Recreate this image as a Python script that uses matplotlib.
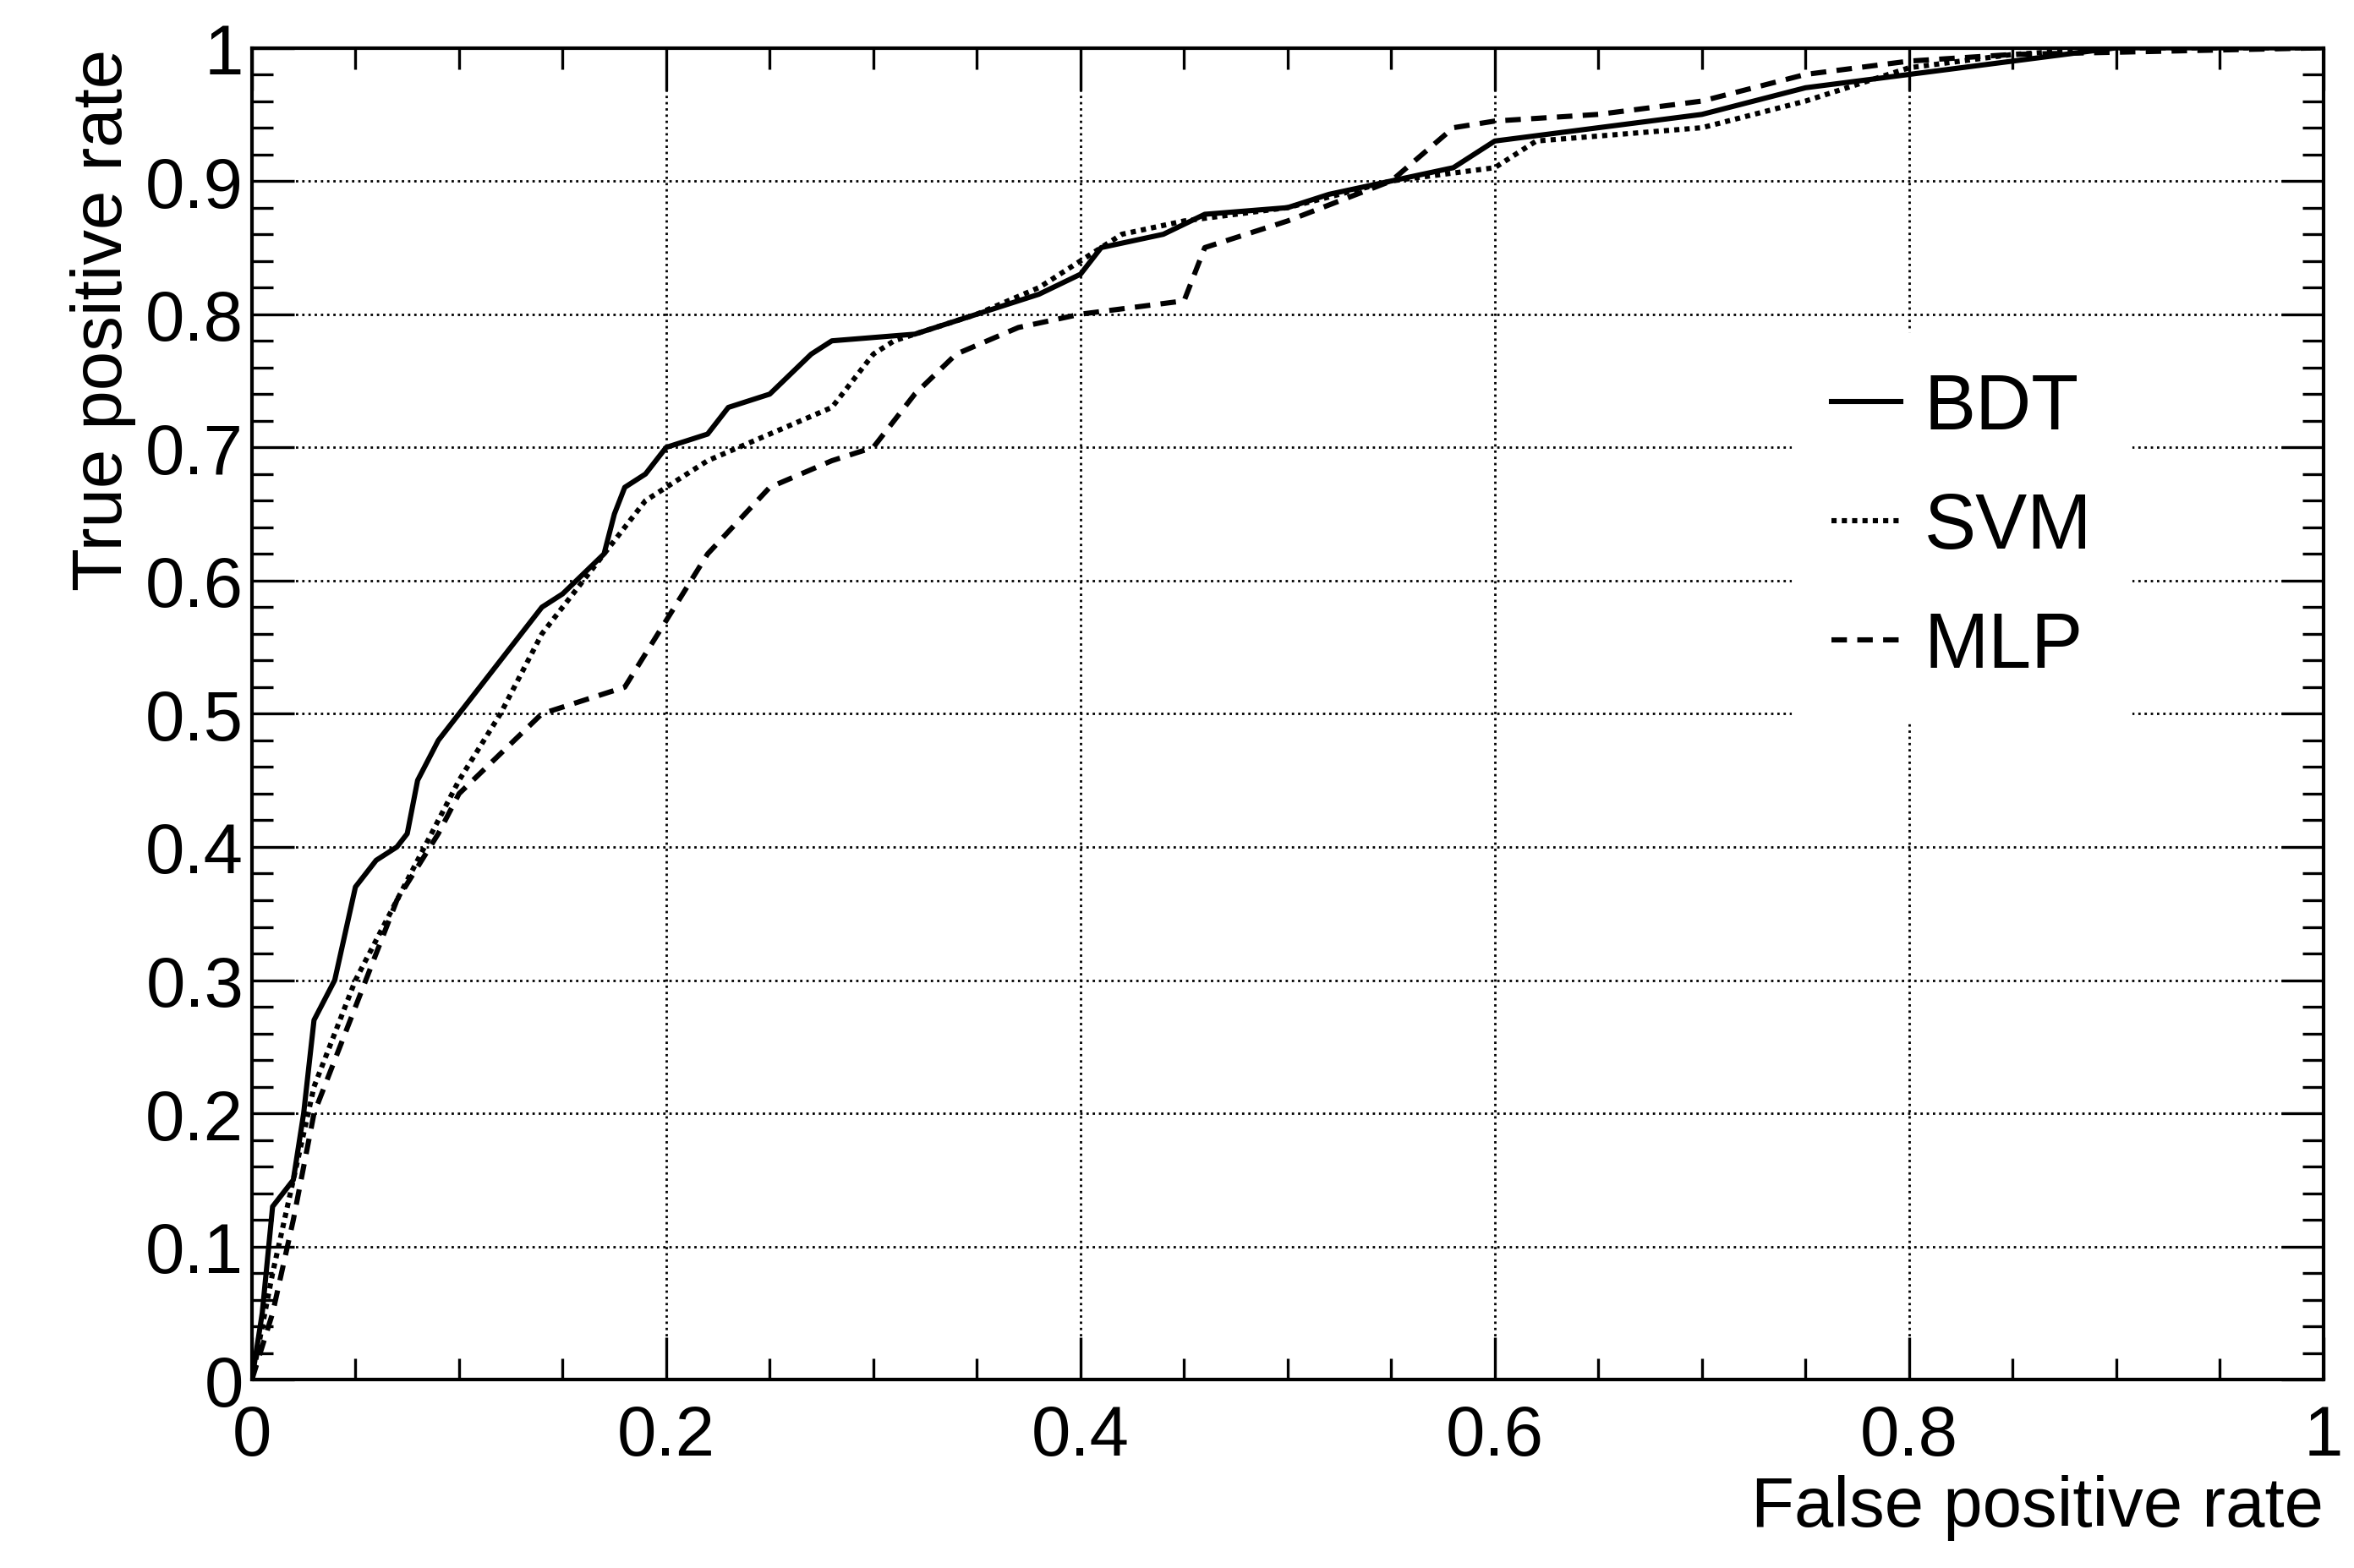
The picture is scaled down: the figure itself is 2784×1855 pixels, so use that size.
import matplotlib
matplotlib.use("Agg")
import matplotlib.pyplot as plt
from matplotlib.ticker import MultipleLocator

bdt_x = [0,0.005,0.01,0.02,0.025,0.03,0.04,0.05,0.06,0.07,0.075,0.08,0.09,0.1,0.11,0.12,0.13,0.14,0.15,0.17,0.175,0.18,0.19,0.2,0.22,0.23,0.25,0.27,0.28,0.32,0.35,0.38,0.4,0.41,0.44,0.46,0.5,0.52,0.58,0.6,0.65,0.7,0.75,0.8,0.85,0.9,1]
bdt_y = [0,0.05,0.13,0.15,0.2,0.27,0.3,0.37,0.39,0.40,0.41,0.45,0.48,0.5,0.52,0.54,0.56,0.58,0.59,0.62,0.65,0.67,0.68,0.7,0.71,0.73,0.74,0.77,0.78,0.785,0.80,0.815,0.83,0.85,0.86,0.875,0.88,0.89,0.91,0.93,0.94,0.95,0.97,0.98,0.99,1.0,1]
svm_x = [0,0.01,0.02,0.03,0.04,0.05,0.06,0.07,0.08,0.09,0.1,0.12,0.14,0.16,0.18,0.19,0.2,0.22,0.25,0.28,0.3,0.31,0.35,0.38,0.4,0.42,0.45,0.5,0.55,0.6,0.62,0.7,0.75,0.8,0.85,0.9,1]
svm_y = [0,0.08,0.15,0.22,0.26,0.3,0.33,0.36,0.39,0.42,0.45,0.5,0.56,0.6,0.64,0.66,0.67,0.69,0.71,0.73,0.77,0.78,0.80,0.82,0.84,0.86,0.87,0.88,0.90,0.91,0.93,0.94,0.96,0.985,0.995,1,1]
mlp_x = [0,0.01,0.02,0.03,0.05,0.07,0.09,0.1,0.12,0.14,0.16,0.18,0.2,0.22,0.25,0.28,0.3,0.32,0.34,0.37,0.4,0.45,0.46,0.5,0.55,0.58,0.6,0.65,0.7,0.75,0.8,0.85,1]
mlp_y = [0,0.05,0.12,0.2,0.28,0.36,0.41,0.44,0.47,0.5,0.51,0.52,0.57,0.62,0.67,0.69,0.7,0.74,0.77,0.79,0.80,0.81,0.85,0.87,0.9,0.94,0.945,0.95,0.96,0.98,0.99,0.995,1]

plt.rcParams['font.family'] = ['Liberation Sans', 'DejaVu Sans']
fig = plt.figure(figsize=(13.92, 9.28), dpi=200)
ax = fig.add_axes([0.107, 0.120, 0.880, 0.849])
ax.plot(bdt_x, bdt_y, color='black', lw=2.2, ls='-', label='BDT')
ax.plot(svm_x, svm_y, color='black', lw=2.2, ls=(0, (1, 1)), label='SVM')
ax.plot(mlp_x, mlp_y, color='black', lw=2.2, ls=(0, (3, 2)), label='MLP')
ax.set_xlim(0, 1); ax.set_ylim(0, 1)
ax.xaxis.set_major_locator(MultipleLocator(0.2)); ax.xaxis.set_minor_locator(MultipleLocator(0.05))
ax.yaxis.set_major_locator(MultipleLocator(0.1)); ax.yaxis.set_minor_locator(MultipleLocator(0.02))
fmt = lambda v, p: ('%g' % round(v, 2))
ax.xaxis.set_major_formatter(fmt); ax.yaxis.set_major_formatter(fmt)
ax.grid(True, which='major', color='black', ls=':', lw=1)
ax.tick_params(which='both', direction='in', top=True, right=True, labelsize=30, width=1.2)
ax.tick_params(which='major', length=18); ax.tick_params(which='minor', length=9)
ax.tick_params(axis='x', pad=10)
for s in ax.spines.values(): s.set_linewidth(1.5)
ax.set_xlabel('False positive rate', fontsize=30, loc='right', labelpad=2)
ax.set_ylabel('True positive rate', fontsize=30, loc='top', labelpad=4)
leg = ax.legend(loc='upper left', bbox_to_anchor=(0.725, 0.815), fontsize=33, frameon=True,
                fancybox=False, edgecolor='white', facecolor='white', framealpha=1,
                handlelength=0.9, handletextpad=0.3, labelspacing=0.6, borderpad=0.5)
fig.savefig('out.png')
